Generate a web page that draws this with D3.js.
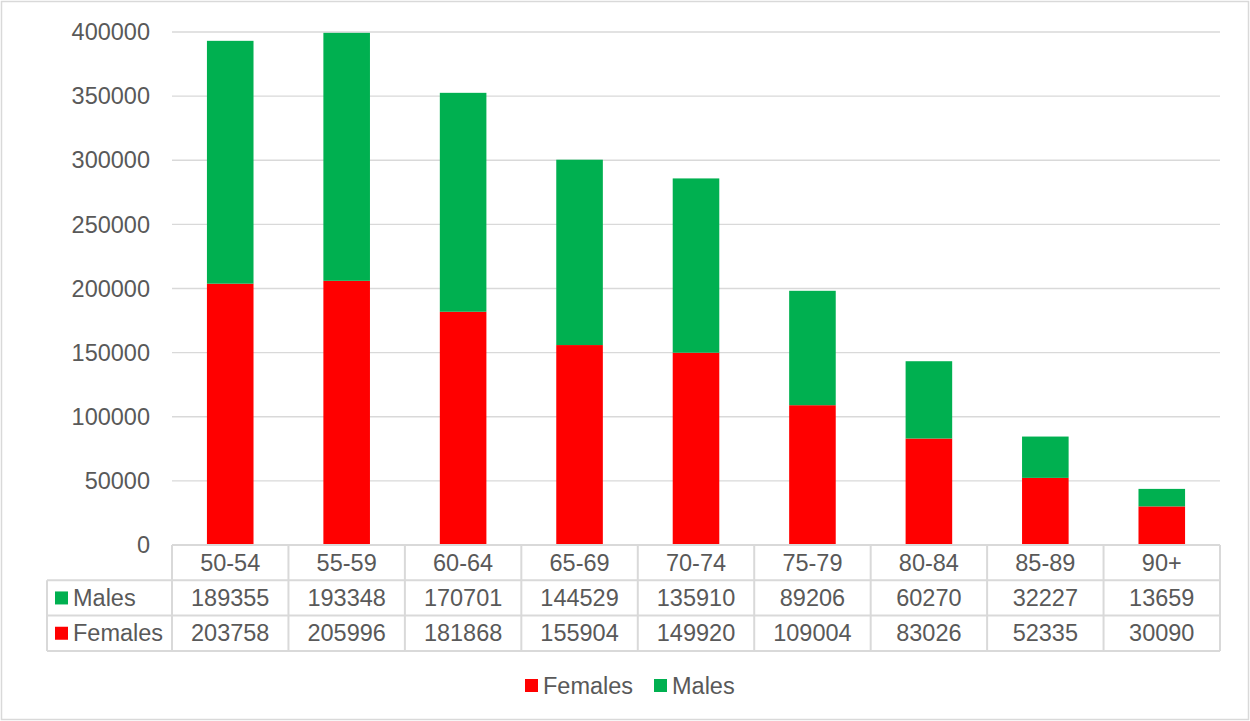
<!DOCTYPE html>
<html>
<head>
<meta charset="utf-8">
<script src="https://cdn.jsdelivr.net/npm/d3@7"></script>
<style>
  body { margin: 0; background: #fff; }
  text { font-family: "Liberation Sans", Arial, sans-serif; fill: #595959; }
</style>
</head>
<body>
<div id="chart"></div>
<script>
var categories = ['50-54', '55-59', '60-64', '65-69', '70-74', '75-79', '80-84', '85-89', '90+'];
var females = [203758, 205996, 181868, 155904, 149920, 109004, 83026, 52335, 30090];
var males = [189355, 193348, 170701, 144529, 135910, 89206, 60270, 32227, 13659];
var yTicks = [0, 50000, 100000, 150000, 200000, 250000, 300000, 350000, 400000];

var seriesNames = ['Females', 'Males'];
var colors = { Females: '#ff0000', Males: '#00b050' };

var width = 1250, height = 721;
var plot = { left: 172, right: 1220, top: 32, bottom: 545 };
var rowH = 35.3;
var tableLeft = 47;
var gridColor = '#d9d9d9';
var fontSize = 23.5;

var svg = d3.select('#chart').append('svg')
    .attr('width', width)
    .attr('height', height);

// outer border
svg.append('rect')
    .attr('x', 1.5).attr('y', 1.5)
    .attr('width', width - 3).attr('height', height - 3)
    .attr('fill', '#fff')
    .attr('stroke', gridColor)
    .attr('stroke-width', 1.5);

var x = d3.scaleBand()
    .domain(categories)
    .range([plot.left, plot.right])
    .paddingInner(0.6)
    .paddingOuter(0.3);

var xCell = d3.scaleBand()
    .domain(categories)
    .range([plot.left, plot.right]);

var y = d3.scaleLinear()
    .domain([0, 400000])
    .range([plot.bottom, plot.top]);

// gridlines
svg.append('g')
    .selectAll('line')
    .data(yTicks.slice(1))
    .join('line')
    .attr('x1', plot.left).attr('x2', plot.right)
    .attr('y1', d => y(d)).attr('y2', d => y(d))
    .attr('stroke', gridColor)
    .attr('stroke-width', 1.3);

// y labels
svg.append('g')
    .selectAll('text')
    .data(yTicks)
    .join('text')
    .attr('x', 150)
    .attr('y', d => y(d))
    .attr('dy', '0.35em')
    .attr('text-anchor', 'end')
    .attr('font-size', fontSize)
    .text(d => d);

// stacked bars
var rows = categories.map((c, i) => ({ cat: c, Females: females[i], Males: males[i] }));
var stack = d3.stack().keys(seriesNames)(rows);

svg.append('g')
    .selectAll('g')
    .data(stack)
    .join('g')
    .attr('fill', d => colors[d.key])
    .selectAll('rect')
    .data(d => d)
    .join('rect')
    .attr('x', d => x(d.data.cat))
    .attr('width', x.bandwidth())
    .attr('y', d => y(d[1]))
    .attr('height', d => y(d[0]) - y(d[1]));

// data table
var table = svg.append('g');
var rowY = [plot.bottom, plot.bottom + rowH, plot.bottom + 2 * rowH, plot.bottom + 3 * rowH];

function hline(x1, x2, yy) {
    table.append('line')
        .attr('x1', x1).attr('x2', x2)
        .attr('y1', yy).attr('y2', yy)
        .attr('stroke', gridColor).attr('stroke-width', 2);
}
function vline(xx, y1, y2) {
    table.append('line')
        .attr('x1', xx).attr('x2', xx)
        .attr('y1', y1).attr('y2', y2)
        .attr('stroke', gridColor).attr('stroke-width', 2);
}

hline(plot.left, plot.right, rowY[0]);
hline(tableLeft, plot.right, rowY[1]);
hline(tableLeft, plot.right, rowY[2]);
hline(tableLeft, plot.right, rowY[3]);
vline(tableLeft, rowY[1], rowY[3]);
categories.forEach(c => vline(xCell(c), rowY[0], rowY[3]));
vline(plot.right, rowY[0], rowY[3]);

// category row
table.append('g')
    .selectAll('text')
    .data(categories)
    .join('text')
    .attr('x', d => xCell(d) + xCell.bandwidth() / 2)
    .attr('y', rowY[0] + rowH / 2)
    .attr('dy', '0.35em')
    .attr('text-anchor', 'middle')
    .attr('font-size', fontSize)
    .text(d => d);

var tableRows = [
    { name: 'Males', values: males },
    { name: 'Females', values: females }
];

tableRows.forEach(function(r, ri) {
    var cy = rowY[ri + 1] + rowH / 2;
    table.append('rect')
        .attr('x', 55).attr('y', cy - 6.5)
        .attr('width', 13).attr('height', 13)
        .attr('fill', colors[r.name]);
    table.append('text')
        .attr('x', 73).attr('y', cy)
        .attr('dy', '0.35em')
        .attr('font-size', fontSize)
        .text(r.name);
    table.append('g')
        .selectAll('text')
        .data(r.values)
        .join('text')
        .attr('x', (d, i) => xCell(categories[i]) + xCell.bandwidth() / 2)
        .attr('y', cy)
        .attr('dy', '0.35em')
        .attr('text-anchor', 'middle')
        .attr('font-size', fontSize)
        .text(d => d);
});

// legend
var legend = svg.append('g');
var legendItems = [{ name: 'Females', x: 525 }, { name: 'Males', x: 654 }];
legendItems.forEach(function(l) {
    legend.append('rect')
        .attr('x', l.x).attr('y', 679)
        .attr('width', 13).attr('height', 13)
        .attr('fill', colors[l.name]);
    legend.append('text')
        .attr('x', l.x + 18).attr('y', 685.5)
        .attr('dy', '0.35em')
        .attr('font-size', fontSize)
        .text(l.name);
});
</script>
</body>
</html>
